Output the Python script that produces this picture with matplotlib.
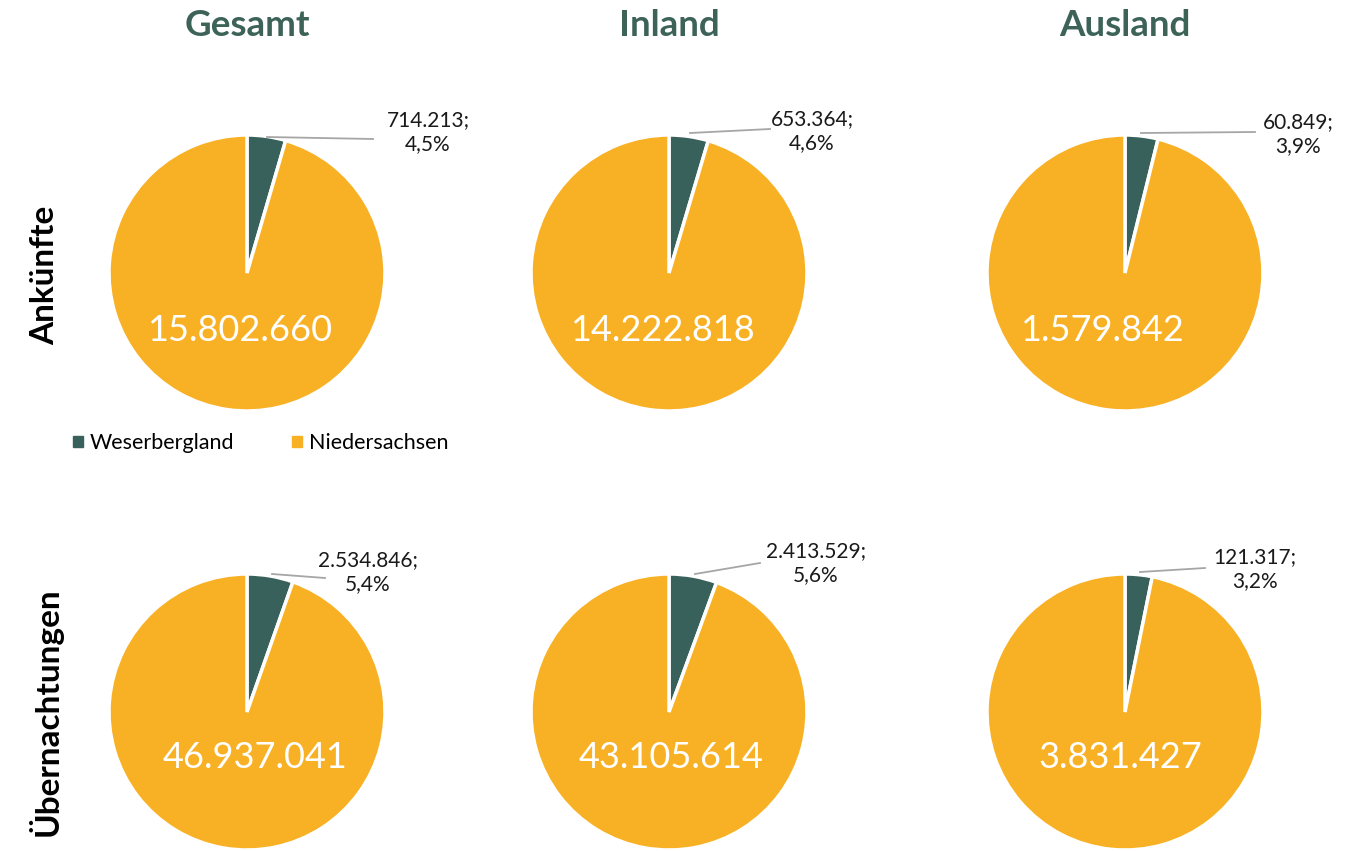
import matplotlib
matplotlib.use("Agg")
import matplotlib.pyplot as plt
import matplotlib.patches as mpatches

plt.rcParams['font.family'] = ['Lato', 'DejaVu Sans']

columns = ["Gesamt", "Inland", "Ausland"]
rows = ["Ankünfte", "Übernachtungen"]
legend_labels = ["Weserbergland", "Niedersachsen"]

weserbergland = [[714213, 653364, 60849],
                 [2534846, 2413529, 121317]]
niedersachsen = [[15802660, 14222818, 1579842],
                 [46937041, 43105614, 3831427]]

DARK = "#37615A"
ORANGE = "#F8B124"
TITLE = "#3D6359"

W, H = 1356, 851
fig = plt.figure(figsize=(W / 100, H / 100), dpi=100)

R = 138
col_cx = [247, 669, 1125]
row_cy = [273, 712]

# label layout (pixel offsets relative to pie centre)
big_off = [[(-7, 58), (-7, 58), (-23, 58)],
           [(8, 46), (2, 46), (-5, 46)]]
small_pos = [[(428, 132), (812, 131), (1298, 134)],
             [(368, 572), (816, 563), (1255, 569)]]
leader = [[((267, 137), (373, 139)), ((690, 133), (770, 129)), ((1141, 133), (1255, 132))],
          [((272, 574), (325, 578)), ((695, 574), (760, 563)), ((1140, 572), (1205, 568))]]


def fmt_int(v):
    return f"{v:,}".replace(",", ".")


def fmt_pct(p):
    return f"{p:.1f}%".replace(".", ",")


for r in range(2):
    for c in range(3):
        cx, cy = col_cx[c], row_cy[r]
        ax = fig.add_axes([(cx - R) / W, 1 - (cy + R) / H, 2 * R / W, 2 * R / H])
        wv = weserbergland[r][c]
        nv = niedersachsen[r][c]
        ax.pie([wv, nv - wv], colors=[DARK, ORANGE], startangle=90, counterclock=False,
               radius=1, wedgeprops=dict(edgecolor="white", linewidth=2.5))
        ax.set_xlim(-1, 1)
        ax.set_ylim(-1, 1)
        ax.set_aspect("equal")
        ax.axis("off")

        def to_data(px, py):
            return (px - cx) / R, (cy - py) / R

        bx, by = big_off[r][c]
        ax.text(bx / R, -by / R, fmt_int(nv), color="white", fontsize=26,
                ha="center", va="center")
        (x0, y0), (x1, y1) = leader[r][c]
        d0 = to_data(x0, y0)
        d1 = to_data(x1, y1)
        ax.plot([d0[0], d1[0]], [d0[1], d1[1]], color="#A6A6A6", lw=1.3, clip_on=False)
        sx, sy = small_pos[r][c]
        ds = to_data(sx, sy)
        ax.text(ds[0], ds[1], fmt_int(wv) + ";\n" + fmt_pct(100 * wv / nv),
                fontsize=15, ha="center", va="center", color="#1A1A1A",
                linespacing=1.25, clip_on=False)

for c, name in enumerate(columns):
    fig.text(col_cx[c] / W, 1 - 25 / H, name, fontsize=26.5, fontweight="bold",
             color=TITLE, ha="center", va="center")

for r, name in enumerate(rows):
    fig.text(45 / W, 1 - (275 if r == 0 else 712) / H, name, fontsize=24,
             fontweight="bold", color="black", rotation=90, ha="center", va="center")

# legend
handles = [mpatches.Patch(color=DARK), mpatches.Patch(color=ORANGE)]
fig.legend(handles, legend_labels, loc="center left", bbox_to_anchor=(73 / W, 1 - 443 / H),
           ncol=2, frameon=False, fontsize=15.5, handlelength=0.45, handleheight=0.45,
           handletextpad=0.33, columnspacing=2.7, borderpad=0, borderaxespad=0)

fig.savefig("out.png", dpi=100)
